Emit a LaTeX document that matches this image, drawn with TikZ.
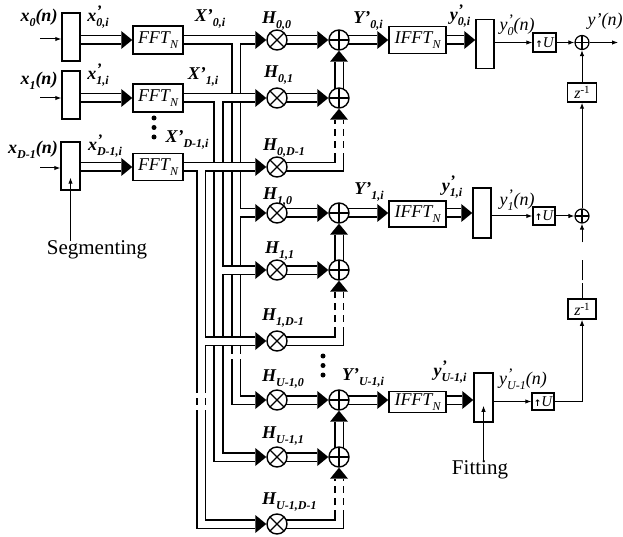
\documentclass[tikz,border=0pt]{standalone}
\usepackage{fontspec}
\setmainfont{Liberation Serif}
\newfontfamily\djv{DejaVu Sans}
\usetikzlibrary{arrows.meta,calc}
\pgfdeclarelayer{bg}
\pgfsetlayers{bg,main}
\newcommand\Ssub[1]{\raisebox{-4.5pt}{\fontsize{12}{13}\selectfont #1}}
\newcommand\Psub[1]{\rlap{\raisebox{5.5pt}{\fontsize{16}{16}\selectfont ’}}\Ssub{#1}}
\newcommand\LabB{\fontsize{18}{20}\selectfont\bfseries\itshape}
\newcommand\LabM{\fontsize{18}{20}\selectfont\itshape}
\newcommand\FFTt{{\fontsize{18}{20}\selectfont\itshape FFT\Ssub{N}}}
\newcommand\IFFTt{{\fontsize{18}{20}\selectfont\itshape IFFT\Ssub{N}}}
\newcommand\UPt{{\djv\bfseries\fontsize{9}{9}\selectfont ↑}{\fontsize{15}{16}\selectfont\itshape U}}
\newcommand\Zt{{\fontsize{16}{16}\selectfont\itshape z\raisebox{5pt}{\fontsize{11}{11}\selectfont\upshape -1}}}
\begin{document}
\begin{tikzpicture}[x=1pt,y=-1pt,
  box/.style={draw,line width=1.5pt,fill=white,inner sep=0pt},
  mul/.style={circle,draw,fill=white,line width=1.4pt,minimum size=20pt,inner sep=0pt,
    path picture={\draw[line width=1.3pt] (path picture bounding box.south west)--(path picture bounding box.north east) (path picture bounding box.north west)--(path picture bounding box.south east);}},
  add/.style={circle,draw,fill=white,line width=1.4pt,minimum size=20pt,inner sep=0pt,
    path picture={\draw[line width=1.3pt] (path picture bounding box.north)--(path picture bounding box.south) (path picture bounding box.west)--(path picture bounding box.east);}},
  sadd/.style={add,minimum size=14pt,line width=1.2pt},
  bus/.style={double,line width=1.6pt,double distance=7pt},
  busdash/.style={bus,dash pattern=on 7pt off 5pt},
  sig/.style={line width=1pt,-{Latex[length=6pt,width=4.5pt]}},
  lab/.style={inner sep=0pt,font=\LabB},
  labm/.style={inner sep=0pt,font=\LabM},
  dot/.style={circle,fill,inner sep=0pt,minimum size=5pt},
  tipr/.pic={\fill (0,0)--(-11,-9)--(-11,9)--cycle;},
  tipu/.pic={\fill (0,0)--(-9,11)--(9,11)--cycle;},
]
\useasboundingbox (0,0) rectangle (623,537);
% coordinates
\coordinate (vx0) at (236,0);
\coordinate (vx1) at (218.5,0);
\coordinate (vxD) at (201,0);
\coordinate (dzA) at (0,347);
\coordinate (dzB) at (0,362);
\coordinate (dzC) at (0,386);
\coordinate (dzD) at (0,416);
\coordinate (in0) at (40,39);
\coordinate (in1) at (40,98);
\coordinate (inD) at (40,168);
\coordinate (out) at (618,42.5);
% segmenting boxes
\node[box,minimum width=18pt,minimum height=48pt] (s0) at (71,37) {};
\node[box,minimum width=18pt,minimum height=48pt] (s1) at (71,95) {};
\node[box,minimum width=19pt,minimum height=48pt] (sD) at (70.5,166) {};
% FFT
\node[box,minimum width=50pt,minimum height=28pt] (f0) at (158,40) {\FFTt};
\node[box,minimum width=50pt,minimum height=28pt] (f1) at (158,98) {\FFTt};
\node[box,minimum width=50pt,minimum height=27pt] (fD) at (158,167) {\FFTt};
% multipliers
\node[mul] (h00) at (277,40) {};
\node[mul] (h01) at (277,98) {};
\node[mul] (h0D) at (277,167) {};
\node[mul] (h10) at (277,213) {};
\node[mul] (h11) at (277,270) {};
\node[mul] (h1D) at (277,341) {};
\node[mul] (hL0) at (277,400) {};
\node[mul] (hL1) at (277,457) {};
\node[mul] (hLD) at (277,524) {};
% adders
\node[add] (a00) at (339,40) {};
\node[add] (a01) at (339,98) {};
\node[add] (a10) at (339,213) {};
\node[add] (a11) at (339,270) {};
\node[add] (aL0) at (339,400) {};
\node[add] (aL1) at (339,457) {};
% IFFT
\node[box,minimum width=57pt,minimum height=27pt] (i0) at (417.5,40) {\IFFTt};
\node[box,minimum width=57pt,minimum height=26pt] (i1) at (417.5,214) {\IFFTt};
\node[box,minimum width=57pt,minimum height=21pt] (iL) at (417.5,402) {\IFFTt};
% fitting boxes
\node[box,minimum width=18pt,minimum height=49pt] (g0) at (485,44) {};
\node[box,minimum width=18pt,minimum height=50pt] (g1) at (482,213) {};
\node[box,minimum width=19pt,minimum height=49pt] (gL) at (483.5,397.5) {};
% upsamplers
\node[box,minimum width=23pt,minimum height=19pt] (u0) at (544.5,42.5) {\UPt};
\node[box,minimum width=22pt,minimum height=18pt] (u1) at (544,216) {\UPt};
\node[box,minimum width=22pt,minimum height=17pt] (uL) at (543,401.5) {\UPt};
% output adders and delays
\node[sadd] (o0) at (582,42.5) {};
\node[sadd] (o1) at (582,216) {};
\node[box,minimum width=29pt,minimum height=19pt] (zu) at (582,92.5) {\Zt};
\node[box,minimum width=28pt,minimum height=20pt] (zl) at (582,309) {\Zt};
% buses
\begin{pgfonlayer}{bg}
\foreach \s/\f in {s0/f0,s1/f1,sD/fD} \draw[bus] (\s.center |- \f) -- ([xshift=-11pt]\f.west);
\draw[bus] (f0.center) -- ([xshift=-11pt]h00.west)
  (vx0 |- f0) -- (vx0 |- dzA)
  (vx0 |- dzB) |- ([xshift=-11pt]hL0.west)
  (vx0 |- h10) -- ([xshift=-11pt]h10.west);
\draw[busdash] (vx0 |- dzA) -- (vx0 |- dzB);
\draw[bus] (f1.center) -- ([xshift=-11pt]h01.west)
  (vx1 |- f1) |- ([xshift=-11pt]hL1.west)
  (vx1 |- h11) -- ([xshift=-11pt]h11.west);
\draw[bus] (fD.center) -- ([xshift=-11pt]h0D.west)
  (vxD |- fD) -- (vxD |- dzC)
  (vxD |- dzD) |- ([xshift=-11pt]hLD.west)
  (vxD |- h1D) -- ([xshift=-11pt]h1D.west);
\draw[busdash] (vxD |- dzC) -- (vxD |- dzD);
\foreach \u in {0,1,L} {
  \draw[bus] (h\u0.center) -- ([xshift=-11pt]a\u0.west);
  \draw[bus] (h\u1.center) -- ([xshift=-11pt]a\u1.west);
  \draw[bus] (a\u1.center) -- ([yshift=-11pt]a\u0.south);
  \draw[bus] (h\u D.center) -| ($(a\u1 |- h\u D)+(0,-7)$);
  \draw[busdash] ($(a\u1 |- h\u D)+(0,-7)$) -- ([yshift=-11pt]a\u1.south);
  \draw[bus] (a\u0.center) -- ([xshift=-11pt]i\u.west |- a\u0);
  \draw[bus] (i\u.center |- a\u0) -- ([xshift=-11pt]g\u.west |- a\u0);
}
\end{pgfonlayer}
% arrow tips of buses
\foreach \n in {f0,f1,fD,h00,h01,h0D,h10,h11,h1D,hL0,hL1,hLD,a00,a01,a10,a11,aL0,aL1} \pic at (\n.west) {tipr};
\foreach \u in {0,1,L} {
  \pic at (a\u0.south) {tipu};
  \pic at (a\u1.south) {tipu};
  \pic at (i\u.west |- a\u0) {tipr};
  \pic at (g\u.west |- a\u0) {tipr};
}
% texts
\node[lab] (lx0) at (39,18) {x\Ssub{0}(n)};
\node[lab] (lx1) at (39,81) {x\Ssub{1}(n)};
\node[lab] (lxD) at (33,150) {x\Ssub{D-1}(n)};
\node[lab] (lp0) at (98,17) {x\Psub{0,i}};
\node[lab] (lp1) at (98,75) {x\Psub{1,i}};
\node[lab] (lpD) at (105,146) {x\Psub{D-1,i}};
\node[lab] (lX0) at (210,19) {X’\Ssub{0,i}};
\node[lab] (lX1) at (203,77) {X’\Ssub{1,i}};
\node[lab] (lXD) at (187,140) {X’\Ssub{D-1,i}};
\node[lab,anchor=west] (lH00) at (262,21) {H\Ssub{0,0}};
\node[lab,anchor=west] (lH01) at (264,75) {H\Ssub{0,1}};
\node[lab,anchor=west] (lH0D) at (263,148) {H\Ssub{0,D-1}};
\node[lab,anchor=west] (lH10) at (263,197) {H\Ssub{1,0}};
\node[lab,anchor=west] (lH11) at (265,251) {H\Ssub{1,1}};
\node[lab,anchor=west] (lH1D) at (262,318) {H\Ssub{1,D-1}};
\node[lab,anchor=west] (lHL0) at (262,379) {H\Ssub{U-1,0}};
\node[lab,anchor=west] (lHL1) at (262,436) {H\Ssub{U-1,1}};
\node[lab,anchor=west] (lHLD) at (262,502) {H\Ssub{U-1,D-1}};
\node[lab] (lY0) at (368,21) {Y’\Ssub{0,i}};
\node[lab] (lY1) at (369,192) {Y’\Ssub{1,i}};
\node[lab] (lYL) at (363,378) {Y’\Ssub{U-1,i}};
\node[lab] (ly0) at (460,16) {y\Psub{0,i}};
\node[lab] (ly1) at (452,187) {y\Psub{1,i}};
\node[lab] (lyL) at (450,372) {y\Psub{U-1,i}};
\node[labm] (lo0) at (517,25) {y\Psub{0}(n)};
\node[labm] (lo1) at (517,200) {y\Psub{1}(n)};
\node[labm] (loL) at (523,379) {y\Psub{U-1}(n)};
\node[labm] (lout) at (605,21) {y’(n)};
\node[inner sep=0pt,font=\fontsize{21}{24}\selectfont] (segtxt) at (97,250) {Segmenting};
\node[inner sep=0pt,font=\fontsize{21}{24}\selectfont] (fittxt) at (480,470) {Fitting};
\node[dot] (d1) at (154,118) {};
\node[dot] (d2) at (154,127.5) {};
\node[dot] (d3) at (154,137) {};
\node[dot] (d4) at (323,356) {};
\node[dot] (d5) at (323,365.5) {};
\node[dot] (d6) at (323,375) {};
% thin signal lines
\foreach \i/\s in {in0/s0,in1/s1,inD/sD} \draw[sig] (\i) -- (\i -| \s.west);
\draw[sig] (g0.east |- u0) -- (u0.west);
\draw[sig] (g1.east |- u1) -- (u1.west);
\draw[sig] (gL.east |- uL) -- (uL.west);
\draw[sig] (u0) -- (o0);
\draw[sig] (u1) -- (o1);
\draw[sig] (o0) -- (out);
\draw[sig] (zu) -- (o0);
\draw[sig] (o1) -- (zu);
\draw[sig,dash pattern=on 15pt off 3pt on 20pt off 18pt on 40pt off 1pt] (zl) -- (o1);
\draw[sig] (uL.east) -| (zl.south);
\draw[sig] (segtxt.north -| sD) -- ([yshift=13pt]sD.south);
\draw[sig] (fittxt.north -| gL) -- ([yshift=17pt]gL.south);
\end{tikzpicture}
\end{document}
